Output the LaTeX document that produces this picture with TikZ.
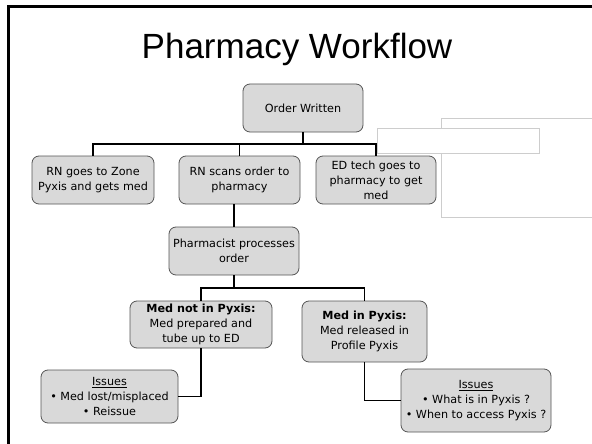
\documentclass[tikz,border=0pt]{standalone}
\usepackage{fontspec}
\setmainfont{DejaVu Sans}
\newfontfamily\titlefont{Liberation Sans}
\definecolor{boxfill}{RGB}{217,217,217}
\definecolor{boxline}{RGB}{85,85,85}
\definecolor{ghost}{RGB}{205,205,205}
\tikzset{
  box/.style={draw=boxline, fill=boxfill, line width=0.8pt, rounded corners=7pt,
    inner sep=0pt, align=center, font=\fontsize{11.2}{15}\selectfont},
  conn/.style={draw=black, line width=1.6pt},
  ghostbox/.style={draw=ghost, fill=white, line width=0.9pt}
}
\begin{document}
\begin{tikzpicture}[x=1pt,y=-1pt]
\useasboundingbox (0,0) rectangle (592,444);
\begin{scope}
  \clip (0,0) rectangle (592,444);
  \draw[line width=2.6pt] (8.3,6.8) rectangle (620,470);
  \draw[ghostbox] (441,118) rectangle (610,217);
  \draw[ghostbox] (377,128) rectangle (539,153);
\end{scope}
\node[anchor=base, font=\titlefont\fontsize{35}{40}\selectfont] (title) at (297,59) {Pharmacy Workflow};

\node[box, minimum width=120pt, minimum height=48pt] (order) at (303,108) {Order Written};
\node[box, minimum width=122pt, minimum height=48pt] (rnzone) at (93,180) {RN goes to Zone\\Pyxis and gets med};
\node[box, minimum width=121pt, minimum height=48pt] (rnscans) at (239.5,180) {RN scans order to\\pharmacy};
\node[box, minimum width=120pt, minimum height=48pt] (edtech) at (376,180) {ED tech goes to\\pharmacy to get\\med};
\node[box, minimum width=130pt, minimum height=48pt] (pharm) at (234,251) {Pharmacist processes\\order};
\node[box, minimum width=142pt, minimum height=47pt] (mednot) at (201,324.5) {\textbf{Med not in Pyxis:}\\Med prepared and\\tube up to ED};
\node[box, minimum width=125pt, minimum height=61pt] (medin) at (364.5,331.5) {\textbf{Med in Pyxis:}\\Med released in\\Profile Pyxis};
\node[box, minimum width=137pt, minimum height=53pt] (issuesL) at (109.5,396.5) {\underline{Issues}\\• Med lost/misplaced\\• Reissue};
\node[box, minimum width=150pt, minimum height=63pt] (issuesR) at (476,400.5) {\underline{Issues}\\• What is in Pyxis ?\\• When to access Pyxis ?};

\coordinate (bus1) at (303,144);
\coordinate (bus2) at (234,288);
\draw[conn] (order.south) -- (bus1);
\draw[conn] (rnzone.north) |- (bus1);
\draw[conn] (edtech.north) |- (bus1);
\draw[conn] (rnscans.north) -- (rnscans.north |- bus1);
\draw[conn] (pharm.north) -- (pharm.north |- rnscans.south);
\draw[conn] (pharm.south) -- (bus2);
\draw[conn] (mednot.north) |- (bus2);
\draw[conn] (medin.north) |- (bus2);
\draw[conn] (mednot.south) |- (issuesL.east);
\draw[conn] (medin.south) |- (issuesR.west);
\end{tikzpicture}
\end{document}
